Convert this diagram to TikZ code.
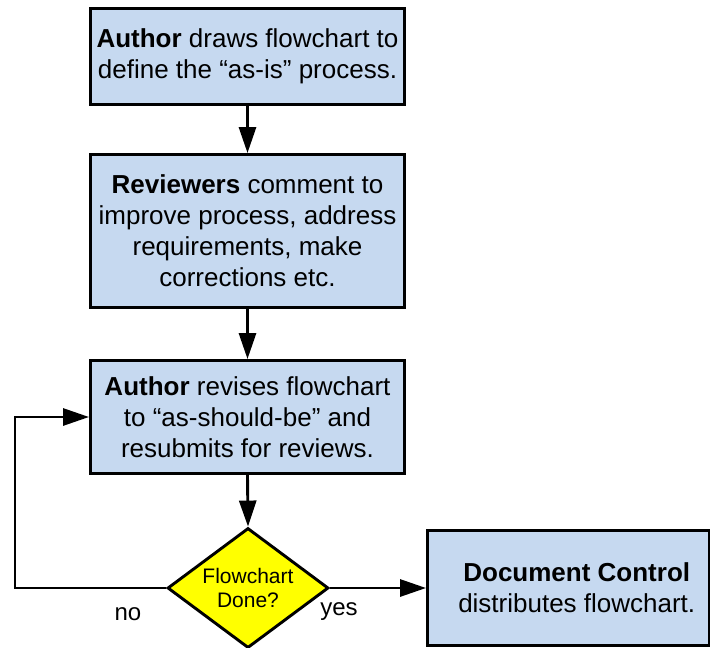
\documentclass[tikz,border=0pt]{standalone}
\usepackage{fontspec}
\setmainfont{Liberation Sans}
\usetikzlibrary{shapes.geometric,arrows.meta}
\definecolor{boxblue}{HTML}{C6D9F0}
\definecolor{decyel}{HTML}{FFFF00}
\begin{document}
\begin{tikzpicture}[x=1pt,y=-1pt,
  procbox/.style={draw=black, line width=2.9pt, fill=boxblue, align=center, inner sep=0pt,
    font=\fontsize{26}{31}\selectfont},
  decbox/.style={draw=black, line width=2.9pt, fill=decyel, shape=diamond, aspect=1.35, align=center, inner sep=0pt,
    font=\fontsize{21}{24}\selectfont},
  arr/.style={line width=2.9pt, -{Triangle[length=26pt,width=17pt]}},
  lbl/.style={font=\fontsize{24}{28}\selectfont, inner sep=0pt}]
\useasboundingbox (0,0) rectangle (710,648);
\node[procbox, minimum width=314pt, minimum height=96pt] (b1) at (247.5,56.5)
  {\textbf{Author} draws flowchart to\\define the “as-is” process.};
\node[procbox, minimum width=314pt, minimum height=153pt] (b2) at (247.5,231)
  {\textbf{Reviewers} comment to\\improve process, address\\requirements, make\\corrections etc.};
\node[procbox, minimum width=314pt, minimum height=113pt] (b3) at (247.5,417)
  {\textbf{Author} revises flowchart\\to “as-should-be” and\\resubmits for reviews.};
\node[decbox, minimum width=161pt, minimum height=120pt] (d) at (248,588)
  {Flowchart\\Done?};
\node[procbox, minimum width=281.5pt, minimum height=115pt] (b4) at (568.25,588)
  {\hspace*{17pt}\textbf{Document Control}\\\hspace*{17pt}distributes flowchart.};
\coordinate (lp) at (15,588);
\draw[arr] (b1.south) -- (b2.north);
\draw[arr] (b2.south) -- (b3.north);
\draw[arr] (b3.south) -- (d.north);
\draw[arr] (d.east) -- (b4.west);
\draw[arr] (d.west) -- (lp) |- (b3.west);
\node[lbl] (no) at (128,614) {no};
\node[lbl] (yes) at (339,612) {yes};
\end{tikzpicture}
\end{document}
